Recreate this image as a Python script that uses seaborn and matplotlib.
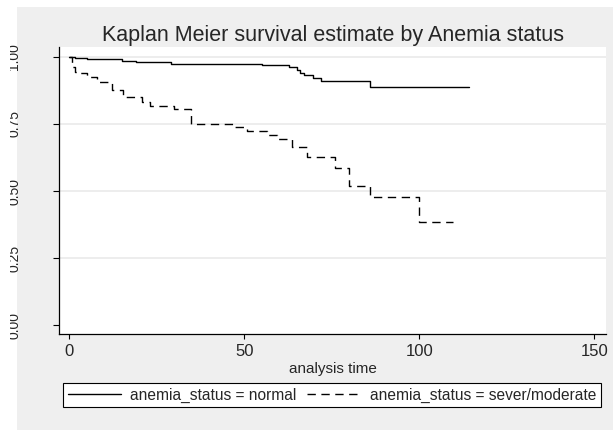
import matplotlib
matplotlib.use("Agg")
import matplotlib.pyplot as plt
import seaborn as sns
import pandas as pd
from matplotlib.patches import Rectangle
from matplotlib.transforms import Bbox

# ---- data ----
normal_time = [0, 1.5, 5, 15, 19, 29, 55, 62.8, 64.9, 66, 67, 69.7, 72, 85.9, 114.2]
normal_surv = [1.0, 0.995, 0.990, 0.985, 0.980, 0.974, 0.969, 0.960, 0.951, 0.940,
               0.932, 0.922, 0.911, 0.886, 0.886]

severe_time = [0, 0.6, 1.5, 3, 5, 7.8, 12.2, 15.3, 20.6, 23, 30, 34.8, 46.7, 50.6,
               56.3, 59.2, 63.5, 67.8, 76, 80, 86, 99.8, 109.6]
severe_surv = [1.0, 0.963, 0.944, 0.938, 0.923, 0.907, 0.876, 0.851, 0.832, 0.816,
               0.804, 0.749, 0.737, 0.725, 0.708, 0.694, 0.663, 0.625, 0.584, 0.520,
               0.479, 0.386, 0.386]

group_labels = ["anemia_status = normal", "anemia_status = sever/moderate"]
x_ticks = [0, 50, 100, 150]
y_ticks = [0.00, 0.25, 0.50, 0.75, 1.00]
y_ticklabels = ["0.00", "0.25", "0.50", "0.75", "1.00"]
title = "Kaplan Meier survival estimate by Anemia status"
xlabel = "analysis time"

sns.set_style("white")
plt.rcParams["font.family"] = ["Liberation Sans", "DejaVu Sans"]

W, H = 613, 430
fig = plt.figure(figsize=(W / 100, H / 100), dpi=100, facecolor="white")

# gray graph region
fig.patches.append(Rectangle((17 / W, 0), (W - 17) / W, (H - 7) / H,
                             transform=fig.transFigure, facecolor="#efefef",
                             edgecolor="none", zorder=-10))

ax = fig.add_axes([59 / W, (H - 334) / H, (606 - 59) / W, (334 - 47) / H])
ax.set_facecolor("white")

df_n = pd.DataFrame({"t": normal_time, "s": normal_surv})
df_s = pd.DataFrame({"t": severe_time, "s": severe_surv})

sns.lineplot(data=df_n, x="t", y="s", ax=ax, estimator=None, sort=False,
             drawstyle="steps-post", color="black", linewidth=1.0,
             label=group_labels[0])
sns.lineplot(data=df_s, x="t", y="s", ax=ax, estimator=None, sort=False,
             drawstyle="steps-post", color="black", linewidth=1.0,
             dashes=False, label=group_labels[1])
ax.lines[1].set_dashes((6, 4))

ax.set_xlim(-3.0, 153.3)
ax.set_ylim(-0.032, 1.036)
ax.set_xticks(x_ticks)
ax.set_xticklabels([str(v) for v in x_ticks], fontsize=12)
ax.set_yticks(y_ticks)
ax.set_yticklabels(y_ticklabels, fontsize=10, rotation=90, va="center")

for y in y_ticks[1:]:
    ax.axhline(y, color="#eaeaea", linewidth=1.2, zorder=0)

for side in ["top", "right"]:
    ax.spines[side].set_visible(False)
for side in ["left", "bottom"]:
    ax.spines[side].set_color("black")
    ax.spines[side].set_linewidth(0.9)

ax.tick_params(axis="x", direction="out", length=3.8, width=0.8, color="black",
               pad=3.4, bottom=True)
ax.tick_params(axis="y", direction="out", length=4.3, width=0.8, color="black",
               pad=23, left=True)

ax.set_xlabel(xlabel, fontsize=11, labelpad=2)
ax.set_ylabel("")
ax.set_title(title, fontsize=15.5, pad=4)

leg = ax.legend(loc="center", bbox_to_anchor=(332 / W, (H - 395) / H),
                bbox_transform=fig.transFigure, ncol=2, fontsize=11.2,
                frameon=True, fancybox=False, edgecolor="black", framealpha=1,
                handlelength=3.4, handletextpad=0.6, columnspacing=0.7,
                borderpad=0.3, borderaxespad=0)
leg.get_frame().set_linewidth(0.8)

clip = Bbox([[10, 0], [W, H]])
for lab in ax.get_yticklabels():
    lab.set_clip_on(True)
    lab.set_clip_box(clip)

fig.savefig("out.png", dpi=100, facecolor="white")
